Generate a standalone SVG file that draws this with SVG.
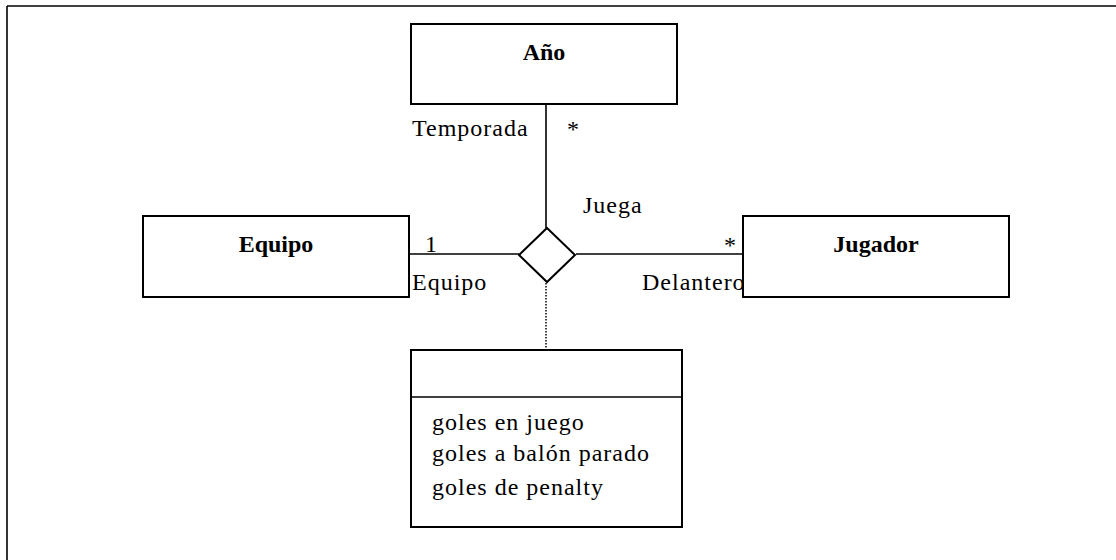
<svg xmlns="http://www.w3.org/2000/svg" width="1116" height="560" viewBox="0 0 1116 560">
<style>
.box{fill:#fff;stroke:#000;stroke-width:2}
.ln{stroke:#000;stroke-width:1.6;fill:none}
.dot{stroke:#000;stroke-width:1.5;stroke-dasharray:1.5 1.5;fill:none}
.t{font-family:"Liberation Serif","Times New Roman",serif;font-size:24px;letter-spacing:1px;fill:#000}
.b{font-family:"Liberation Serif","Times New Roman",serif;font-size:24px;font-weight:bold;fill:#000;text-anchor:middle}
</style>
<rect width="1116" height="560" fill="#fff"/>
<g id="frame">
<line class="ln" x1="7" y1="6" x2="1116" y2="6" stroke-width="2"/>
<line class="ln" x1="7" y1="6" x2="7" y2="560" stroke-width="2"/>
</g>
<g id="connectors">
<line class="ln" x1="546" y1="104" x2="546" y2="228"/>
<line class="ln" x1="407" y1="254" x2="519" y2="254"/>
<line class="ln" x1="576" y1="254" x2="743" y2="254"/>
<line class="dot" x1="546" y1="283" x2="546" y2="350"/>
<text class="t" x="412" y="136">Temporada</text>
<text class="t" x="567" y="137">*</text>
<text class="t" x="583" y="213">Juega</text>
<text class="t" x="425" y="252">1</text>
<text class="t" x="412" y="290">Equipo</text>
<text class="t" x="724" y="253">*</text>
<text class="t" x="642" y="290">Delantero</text>
</g>
<g id="anio">
<rect class="box" x="411" y="24" width="266" height="80"/>
<text class="b" x="544" y="60">Año</text>
</g>
<g id="equipo">
<rect class="box" x="143" y="216" width="266" height="81"/>
<text class="b" x="276" y="252">Equipo</text>
</g>
<g id="jugador">
<rect class="box" x="743" y="216" width="266" height="81"/>
<text class="b" x="876" y="252">Jugador</text>
</g>
<g id="juega">
<polygon class="box" points="547,228 575,255 547,282 519,255"/>
</g>
<g id="atributos">
<rect class="box" x="411" y="350" width="271" height="177"/>
<line class="ln" x1="411" y1="397" x2="682" y2="397" stroke-width="2"/>
<text class="t" x="432" y="430">goles en juego</text>
<text class="t" x="432" y="461">goles a balón parado</text>
<text class="t" x="432" y="495">goles de penalty</text>
</g>
</svg>
